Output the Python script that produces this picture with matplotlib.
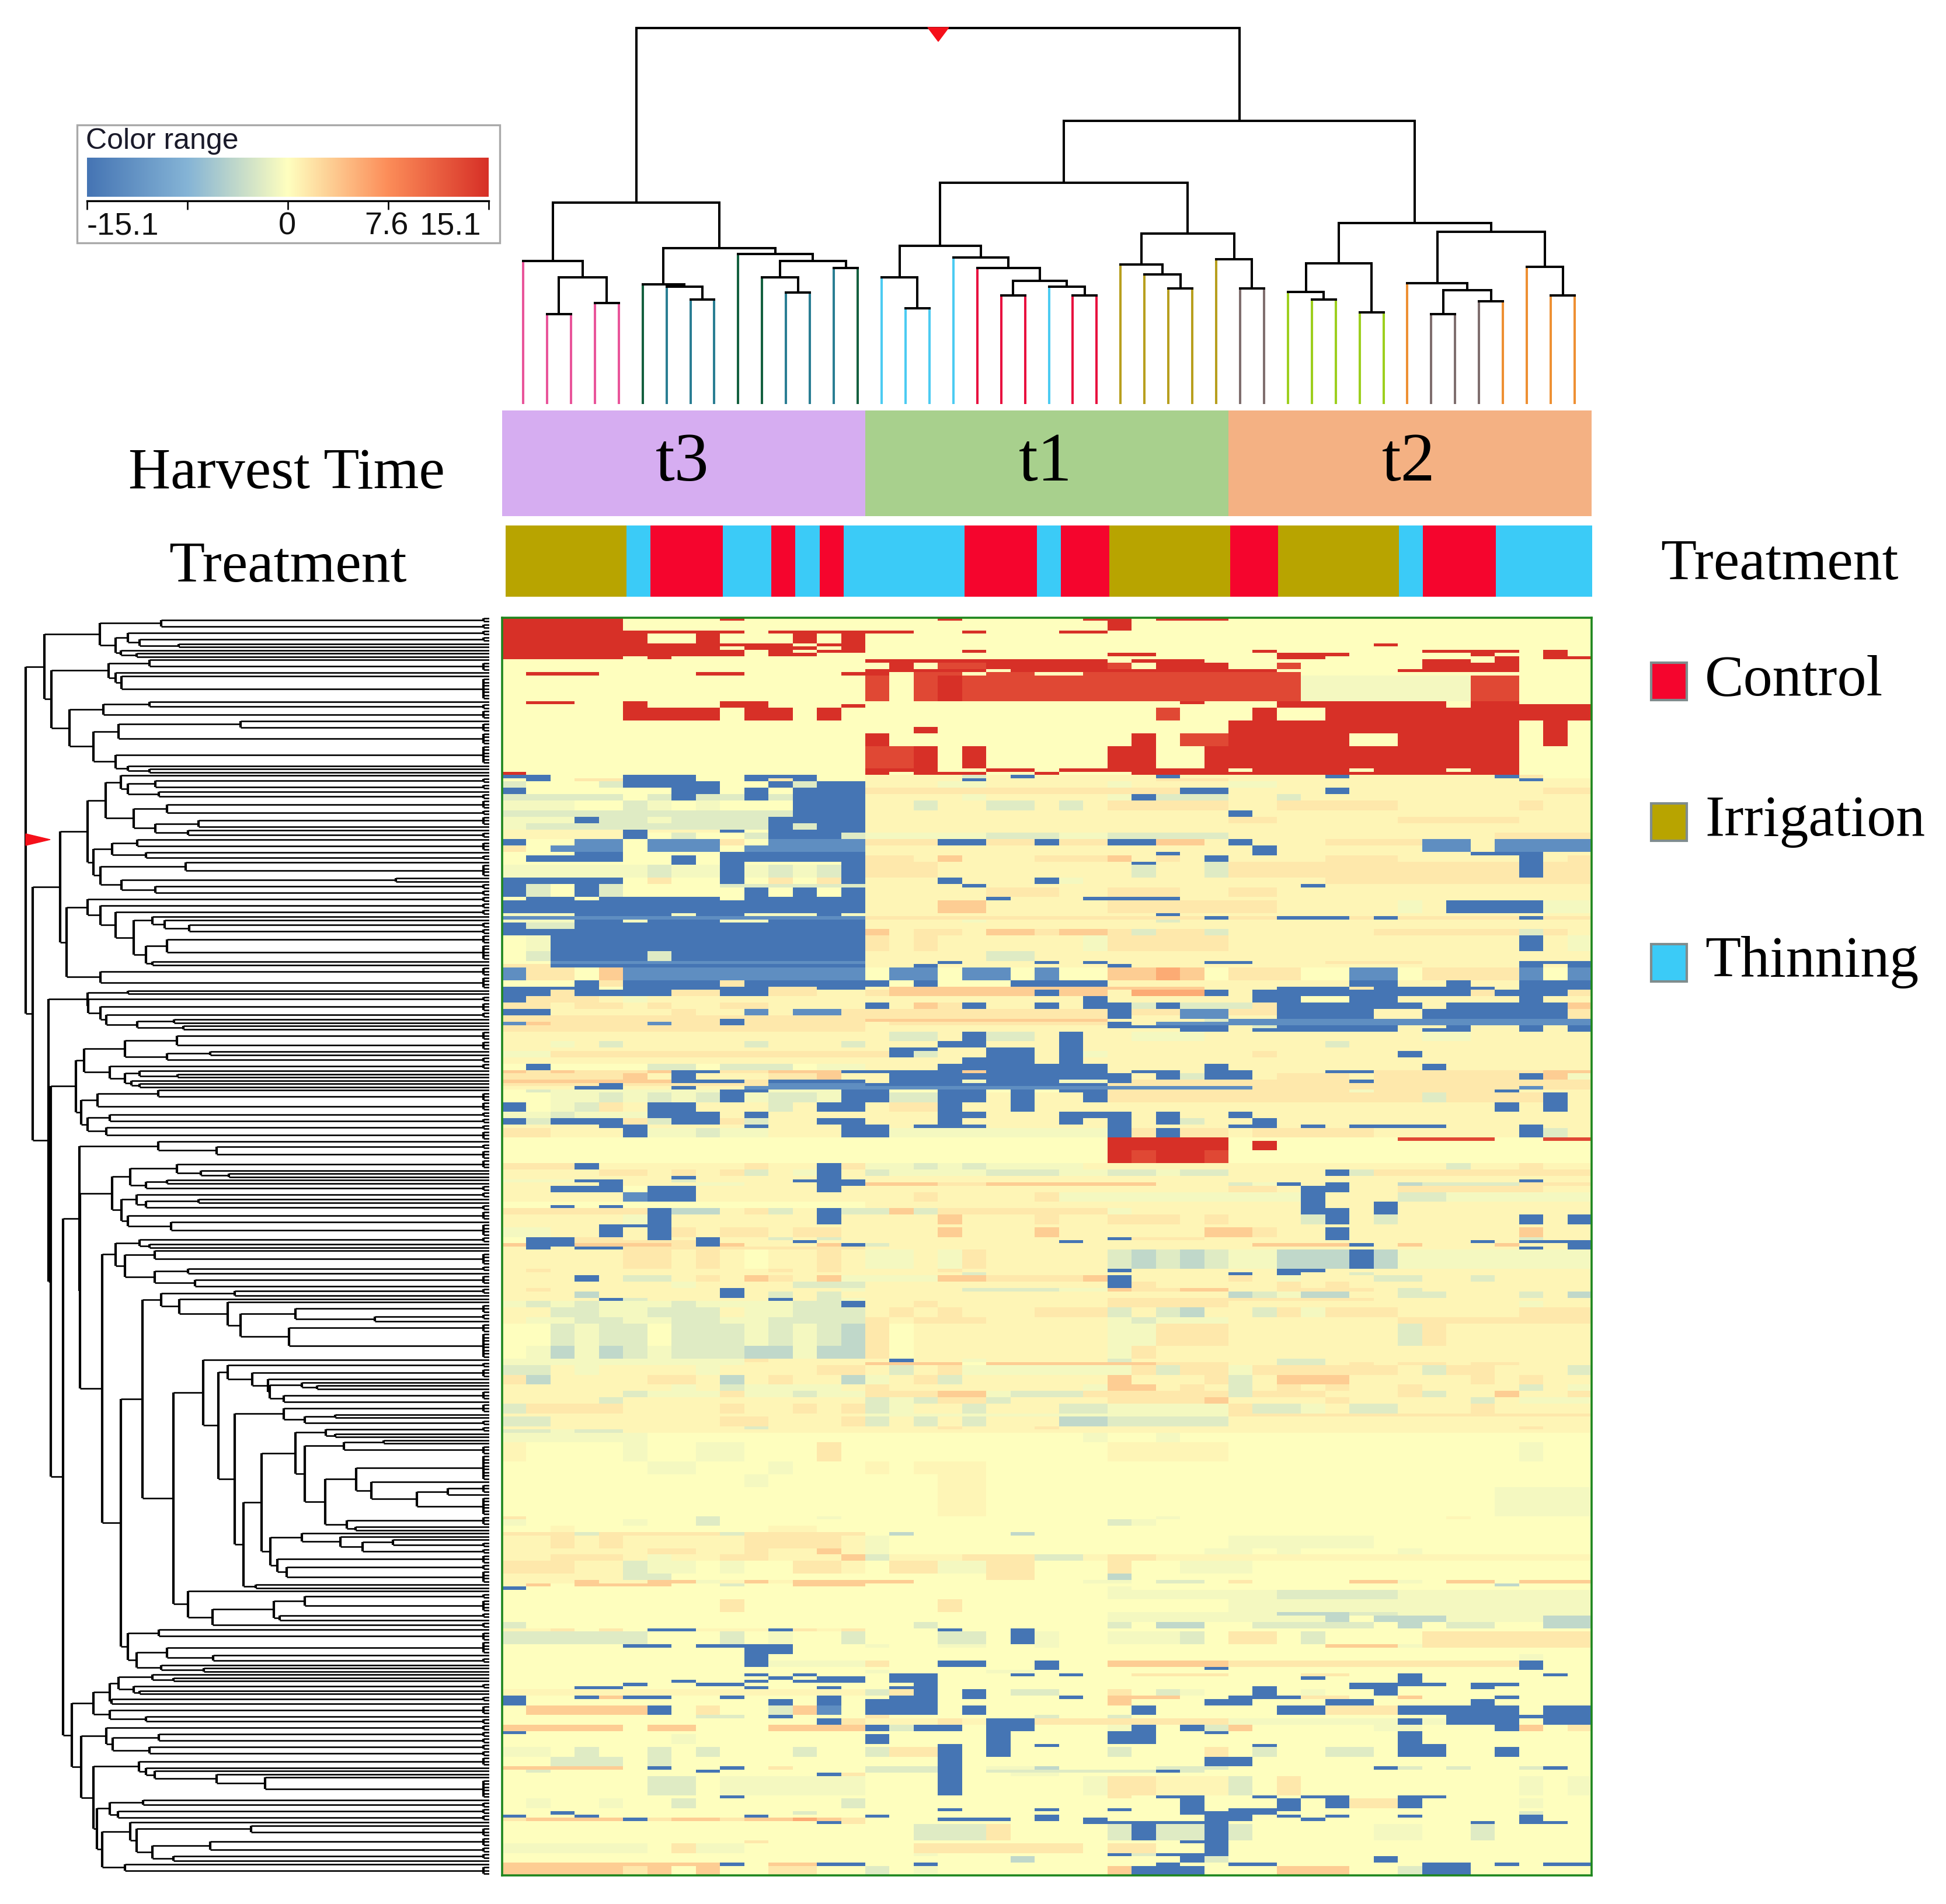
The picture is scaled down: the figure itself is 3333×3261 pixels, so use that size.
import numpy as np
import matplotlib
matplotlib.use('Agg')
from matplotlib import pyplot as plt
from matplotlib.collections import LineCollection
from matplotlib.colors import LinearSegmentedColormap, ListedColormap
from matplotlib.patches import Polygon, Rectangle

W, H = 3333, 3262
plt.rcParams['font.family'] = ['Liberation Serif', 'DejaVu Serif']

# colour range
range_colors = ['#4575B4', '#85B4D6', '#FFFFBF', '#FC8D59', '#D73027']
range_ticks = [-15.1, -7.55, 0, 7.55, 15.1]
range_labels = ['-15.1', '', '0', '7.6', '15.1']

# levels used in the heatmap rows below
level_values = {'.': 0, 'a': 0.6, 'o': 1.5, 'O': 3.2, 'P': 5.5, 'g': -0.7, 'h': -2,
                'i': -3.8, 'b': -12, 'B': -15.1, 'r': 13, 'R': 15.1}

# heatmap : (number of rows, runs of cells), what is missing at the end of a row stays '.'
heat_upper = [
    (1, "R5 .4 R1 .8 R1 .5 R2 .1 R3"), (3, "R5 .20 R1"), (1, "R10 .1 R6 .2 R1 .3 R2"),
    (3, "R6 .2 R1 .3 R1 .1 R1"), (1, "R12 .1 R2 .21 R1"), (1, "R9 .1 R3 .1 R1"),
    (1, "R10 .1 R1 .1 R2 .4 R1 .11 R1 .6 R4 .1 R1"), (1, "R10 .1 R2 .12 R2 .5 R3 .5 R1 .2 R1"),
    (1, "R5 .1 R1 .25 R2 .7 R1 .1 R2"), (1, ".15 R10 .1 R3 .9 R2 .1 R1"),
    (2, ".15 .1 R1 .1 r2 R5 r1 .1 R3 .2 r1 .5 R4"), (1, ".15 R5 .1 R11 .5 R5"),
    (1, ".1 R3 .4 R2 .4 R2 .1 r2 .1 r2 .2 r9"), (8, ".15 r1 .1 r1 R1 r14 g7 r2"),
    (1, ".1 R2 .2 R1 .3 R2 .17 R1 .3 R7 .1 R2"), (1, ".5 R1 .3 R2 .3 R1 .17 R7 .1 R5"),
    (4, ".5 R4 .1 R2 .1 R1 .13 r1 .3 R1 .2 R11"), (2, ".30 R12 .1 R1"), (2, ".17 R1 .12 R12 .1 R1"),
    (4, ".15 R1 .10 R1 .1 r2 R5 .2 R5 .1 R1"), (7, ".15 r2 R1 .1 R1 .5 R2 .2 R13"),
    (1, ".15 R3 .2 R2 .1 R7 .1 R4 .1 R3 .1 R2"), (1, "R1 .14 R1 .1 R3 .2 R1 .3 R16"),
    (1, "B2 .3 B3 .2 B3 .2 a4 h1 a1 B1 a5 B1 a6 B1 a6 B1 o1"),
    (1, ".1 B1 .1 o2 B3 .2 B1 o1 B1 .2 a4 B1 a7 o3 a12 B1 a2"),
    (2, "h1 .3 h1 B4 .2 B1 h1 B2 a3 g2 a5 g1 a4 g2 a13"),
    (2, "B1 .6 B2 .1 B1 .1 B3 o13 B2 a4 B1 a8 o2"),
    (2, "h5 .1 h1 B1 h2 B1 h1 B3 a4 g1 a5 g1 B1 h3 a2 h1 a12"),
    (3, "g3 .2 h1 g1 .1 g1 .3 B3 a2 h1 a2 h2 a1 h1 a1 o5 a2 o5 a5 o1 a2"),
    (2, "h12 B3 a15 B1 a14"), (2, "g3 B1 h2 g1 h4 B4 a15 o2 a5 o5 a3"),
    (2, "g1 h10 B1 h1 B2 a30"), (1, "a5 B1 a3 B1 .1 B4 a30"),
    (2, "a5 B1 .1 h1 .2 h1 B3 h1 g5 h3 g2 h5 a11 o4"),
    (2, "B1 .2 b2 .1 b3 o1 .1 b4 o3 B2 o2 B1 o2 B2 O2 a1 B1 a3 o4 b2 a1 b4"),
    (2, "o1 .1 b3 .1 b3 .1 b5 a16 B1 a6 b2 a1 b4"), (1, ".3 B2 .4 B6 a12 B1 a3 B1 a8 B3 a2"),
    (2, ".1 B4 .2 B1 .1 B6 o2 a1 O1 a3 o3 O1 a1 o1 a1 B1 a4 o3 a5 B1 a1 o1"),
    (1, ".7 B1 .1 B1 .4 B1 o3 a8 B1 a2 h1 o12 B1 o2"),
    (4, "g6 h1 g2 B1 g1 h1 g1 h1 B1 o3 a8 h1 a2 h1 o12 B1 o2"),
    (2, "B5 .1 o1 .2 B1 .1 o1 .1 o1 B1 a3 B1 a3 B1 g1 a10 o11"),
    (1, "B1 h1 .1 B1 h1 .4 h6 a4 B1 a13 B1 a11"),
    (3, "B1 h1 .1 B1 h1 .5 B1 .1 B1 .1 B1 a5 o3 a2 o3 a2 o2 a13"),
    (1, ".1 B2 .1 B5 .1 B5 a5 B1 a3 B4 a17"), (4, "B15 a3 O2 a5 o7 a5 g1 a1 B4 g2"),
    (1, "g3 B4 g1 B2 g3 B1 g1 a12 B1 a17"), (1, "b15 o14 B1 o2 B3 o1 B1 o5 B1 o2"),
    (1, "g3 B2 g1 B3 g2 B4 a4 g1 a7 h1 a17"), (2, "B1 h2 B12 a30"),
]
heat_middle = [
    (2, "B15 O1 a1 o2 a1 O2 o1 O2 o1 h1 o2 h1 a6 o6 h1 o1 a1"),
    (5, ".1 g1 B13 o1 a1 o1 a6 g1 o5 a12 B1 a1 g1"), (3, ".1 h1 B4 h1 B8 a5 h2 a23"),
    (1, ".2 b13 a3 B1 a3 B1 a1 B1 a4 B2 a3 o4 a4 B3"), (1, "o2 B13 a2 B1 a7 B1 a16 B1 a1 B1"),
    (4, "b1 o2 .1 O1 b10 .1 b2 .1 b2 .1 b1 .2 O2 P1 O1 .1 o3 .2 b2 .1 o4 b1 .1 b1"),
    (2, ".3 B1 o1 B4 o1 B6 .1 B1 .3 B4 a10 B2 a2 B1 a2 B3"),
    (1, "B4 .1 B6 o2 B2 a1 O13 a3 B3 o1 B5 a1 B3"),
    (2, "B2 o1 B4 o2 B2 o2 a2 o1 O6 B1 O2 a1 P3 B1 a1 B9 o1 B3 o1"),
    (2, "B1 o3 a1 g1 a9 a9 B1 a6 B2 .2 B2 a5 B1 a2"),
    (2, "o2 a1 o2 a1 o1 a2 o2 a4 B1 a1 O1 o1 B1 a2 B1 a1 B2 h1 B1 h3 o1 B6 a1 B5 O1"),
    (2, "B2 a5 o1 a2 b1 a1 b2 o1 o10 B1 o2 b2 o2 B4 a2 B6 o1"),
    (1, "o15 o10 B1 a2 b2 a2 B4 a2 B6 o1"), (1, "o9 B1 o5 O10 a4 h1 b15"),
    (1, "b1 O1 o4 b1 o2 B1 o5 a1 o9 B1 a1 b18"), (1, "o15 a10 B5 a1 h1 B5 a2 B1 a2 B1 a1 B1"),
    (1, "o15 a13 B2 a1 B6 a1 B2 a2 B1 a1 B1"), (3, "a15 a1 h2 a1 B1 h2 a1 B1 a2 g3 a9 g2 a5"),
    (2, "a2 g1 a1 h1 a5 h1 a3 h1 a3 B2 a3 B1 a10 h1 a10"), (1, "a15 a1 B2 a2 B2 a1 B1 a21"),
    (2, "g2 o13 o1 B1 h1 a2 B2 a1 B1 g1 a6 o1 a5 B1 a7"), (2, "a15 a4 B3 a1 B1 a21"),
    (2, ".1 B1 .4 h2 .1 h3 .1 g2 a3 B7 a4 B1 a8 B1 a6"),
    (1, "O1 o1 O1 o3 O1 B2 o2 O3 B5 O1 B5 a1 B2 a1 B2 a3 B2 o7 O2"),
    (2, "o5 O1 a1 B1 a3 o2 O1 a1 a1 B9 B1 a1 B1 h1 B2 a1 o3 a1 o6 B1 O1 g1"),
    (1, "O7 B3 o1 B4 a1 B3 g1 B3 g2 B1 o9 B1 o9"), (1, "o4 B1 o2 o4 b4 B10 o20"),
    (1, "a3 B2 a2 B1 a2 b5 b10 b6 o11 b1 o2"),
    (1, ".1 h1 g7 B2 g3 B1 B1 .2 B2 .1 B1 .1 B2 o10 g1 o5 B1 a3"),
    (3, ".2 g2 h1 g1 h1 g1 h1 B1 g1 h2 g1 B1 B1 h2 B2 a1 B1 a2 B1 o13 h1 o4 B1 a1"),
    (3, "B1 .1 g1 h1 o1 a1 B2 a3 h1 a1 B2 a1 o2 B1 a2 B1 a19 B1 a1 B1 a1"),
    (2, "g2 h1 g3 B3 a1 B1 a4 a3 B2 a3 B3 a1 B1 a2 B1 a14"),
    (2, "B1 h1 B3 o1 h1 B2 o1 h1 a2 B2 a3 B1 a4 B1 a1 B1 a1 B1 h1 a2 B1 a13"),
    (1, "a4 B2 a4 B1 a3 B2 a1 B3 a5 B1 a4 B2 a1 B1 a1 B4 a3 B1 a2"),
    (3, "o2 a3 B1 g2 h1 g2 a3 B1 B1 g9 B1 o1 B1 o2 a1 o5 a6 B1 h1 a1"),
    (1, ".25 R5 .7 r4 .2 r2"), (3, ".25 R5 .1 R1"), (4, ".25 R1 r1 R2 r1"),
    (2, "o3 B1 a6 o1 a2 B1 o1 g2 h1 g1 h1 g4 a15 h1 a2 o1 a2"),
    (2, "a4 o2 a1 o1 a1 o1 h1 a1 g1 B1 a1 h1 g4 h3 g2 h2 g1 h2 a4 B1 h1 o9"),
    (1, "a7 B1 a5 B1 a1 a30"), (1, "g3 B2 a2 h1 a4 B3 a27 B1 a2"),
    (1, "a4 B1 a3 g2 a3 B2 O3 o2 O7 a3 h1 g1 B1 a1 B1 a2 i1 h4 o3"),
    (2, "a2 B3 .1 B2 a5 B1 a1 a15 o2 a1 B2 a2 o5 o1 a2"),
    (3, "a5 b1 B2 a7 a2 o1 a4 o1 g2 g5 g3 B1 a3 h2 g6"), (1, ".15 a18 B1 a2 B1 a8"),
    (1, ".2 B1 .1 B1 .10 a18 B1 a2 B1 a8"),
    (2, "o5 o1 B1 i2 a1 o1 h1 a1 B1 h1 h1 O1 h1 o7 g1 a7 B2 a1 B1 a8"),
    (3, "a5 g1 B1 a6 B1 a1 a3 O1 a3 o1 a2 o3 a1 o1 a3 h1 B1 a1 h1 a5 B1 a1 B1"),
    (1, "a4 B3 a8 a30"),
    (3, "g2 a2 B1 a1 B1 o1 a1 o2 a1 o2 a1 a3 O1 a3 O1 a6 O2 o1 a2 B1 a7 O1 a2"),
    (1, ".1 B2 o2 a1 B1 a1 B1 a2 h1 a1 h1 a1 a10 B1 o3 a5 B1 a7 h1 a2"),
    (1, ".1 B2 o5 B1 a3 B1 a2 a8 B1 a16 B1 a1 B3"),
    (1, "O1 B2 O4 o1 B1 O1 a3 O1 B1 h1 a15 O4 B1 a1 O1 a3 O1 a2 B1"),
]
heat_lower = [
    (1, "a1 B1 a1 B2 o10 a27 B1 a1 B1"),
    (6, "a5 o2 a1 o1 a1 .1 a2 o1 a1 g2 a1 g1 o1 a5 h1 i1 h1 i1 h1 g2 i3 B1 i1 g8"),
    (1, "a1 o1 a9 o1 a1 o1 a1 a3 o1 a6 B1 a6 B2 a11"),
    (1, "a15 a4 h1 a10 B1 a1 B1 a2 h1 a9"),
    (2, "a3 B1 a1 h2 a1 o1 a1 O1 o1 a1 O1 g1 g3 O2 o4 O1 B1 a4 o1 a1 g1 a3 h2 a2 h1 a4"),
    (2, "a7 g1 a4 h3 a10 B1 o1 a5 o1 a1 o1 a10"),
    (1, "a1 o1 a7 B1 a4 g1 a4 h4 g2 O1 o2 O2 a2 o4 a1 h1 a7"),
    (2, "a3 i1 a5 B1 a1 h1 a1 h1 a1 a15 i1 h1 g1 i2 a2 h2 a3 h1 a1 i1"),
    (1, "a4 B1 h1 a5 B1 a1 h1 g1 a10 o11 a9"),
    (2, "g1 h1 g1 h1 g3 h1 g4 h2 B1 a2 o1 a7 o5 a12 g1 a2"),
    (3, "a2 h2 g2 h3 a1 g2 h3 a1 o1 a1 o1 a3 o3 h1 a1 h1 i1 a2 h1 o1 g1 o3 a5 o3"),
    (2, "a1 g2 h2 g2 h2 g2 h4 o1 a1 o3 a5 g1 h1 g3 a7 o8"),
    (7, ".2 h1 g1 h2 .1 h3 g1 h1 g1 h1 i1 o1 .1 a8 g2 o3 a7 h1 o1 a6"),
    (4, ".1 g1 i1 g1 i1 h1 g1 h3 i2 g1 i2 o1 .1 a8 g1 o1 a18"),
    (1, "g10 o1 a4 a1 B1 a2 g1 a5 h1 a6 h2 a11"),
    (1, "g10 a5 O4 .1 O7 o3 a2 h2 a1 o1 a1 o2 a1 o2 a3"),
    (3, "h2 a1 g1 a4 g1 a4 o2 a1 h1 a1 o1 g7 o1 h1 o2 g1 o1 o5 a1 h1 o2 a3 h1"),
    (3, "o1 i1 a4 o2 a1 i1 a1 o1 a2 i1 g1 a1 o1 h1 a6 O1 a3 o1 h1 a1 O3 a5 o1 a1 o1 a2"),
    (2, "a7 g1 a1 h1 g4 a1 o1 a8 g1 O2 a1 o1 a1 h1 a1 o1 a1 o1 a2 o1 a4 h1 a1 g1"),
    (2, "a5 h1 g3 o1 g2 h1 g2 o3 O2 g1 h3 o1 o5 h1 o3 a3 o1 h1 a2 O1 a2 o1"),
    (2, "a4 h1 a10 h1 g1 h1 o2 h1 a4 o4 O1 a4 o1 a5 h1 a1 g3"),
    (3, "h1 o4 a4 o1 a2 o1 a1 o1 h1 g1 a2 h1 a3 h2 g5 o1 h2 g1 a1 h2 a3 o1 a4"),
    (1, "a15 g15 o15"), (3, "h2 a7 o2 a3 o1 h1 a1 h1 a1 h1 a3 i1 i1 h5 a15"),
    (1, "a7 a1 a2 h1 a4 a3 o1 a3 o1 a19 o1 a2"), (1, "h2 g1 h2 a10 a30"),
    (3, "g6 .9 .9 g1 .2 g1 .17"), (6, "a1 .4 g1 .2 g2 .3 o1 .1 .10 a5 .12 g1 .2"),
    (4, ".6 g2 .3 g1 .3 a1 .1 a3 .25"), (4, ".10 g1 .4 .3 a2 .25"), (9, ".18 a2 .21 g4"),
    (1, "o1 .7 h1 .4 g1 .1 .12 g1 .11 a1 .5"), (2, "g1 .4 g1 .2 h1 .6 .10 h1 g1 .18"),
    (2, ".2 a1 .8 a2 .2"), (1, "o3 h1 o5 h1 o5 .1 i1 .4 i1 .23"),
    (4, "a2 o1 a1 o1 a5 o4 a1 g1 .14 g6 .9"), (2, "a6 o2 a2 o1 a2 O1 a1 g1 .13 g2 .1 g1 .4 g1 .7"),
    (2, "a2 o3 a1 g1 a2 o2 a3 O1 h1 a3 o3 h2 a1 o2 a18"),
]
heat_bottom = [
    (4, "o3 a2 h1 g2 .1 g1 .2 o2 a1 .1 o2 g2 o2 .3 o1 .2 g3 .14"), (2, "a5 h2 .8 .5 o2 .3 i1 .19"),
    (1, "a3 O1 a2 O2 g1 a1 O1 a1 O3 O2 .7 g2 .1 h2 .1 o1 .4 O2 g1 .1 O2 .1 O3"),
    (1, "a1 O1 .1 O4 .2 h1 .2 O3 .26 i1 .3"), (1, "B1 .14 .10 g1 .19"), (3, ".25 g5 g2 h5 g8"),
    (4, ".9 o1 .8 o1 .11 g15"), (1, ".25 g7 i3 h2 g8"), (2, ".25 g9 i1 .1 i3 g4 i2"),
    (2, "h1 .16 h1 .7 h1 .1 i2 .2 h5 .1 i1 .1 h2 .2 i2"),
    (1, "a2 o1 .1 o1 .1 B2 a3 B1 o1 a1 o1 .3 B1 .2 B1 .23"),
    (4, "h6 .3 h1 .1 g1 .2 h1 .3 h2 .1 B1 g1 .2 g3 h1 .1 o2 .1 h1 .4 o7"),
    (1, ".5 B2 .1 B4 .3 g1 .2 g2 .2 g1 .11 O3 g1 o7"), (2, ".10 B2 .3"),
    (2, ".10 B1 .4 .27 g1 .2"), (2, ".10 B1 g4 o1 .2 B2 .2 B1 .2 O5 o12 B1 .2"),
    (1, ".15 .7 B1 .6 B1 .12 B1 .2"), (1, ".15 g1 .4 g2 .23"),
    (1, ".10 B1 .1 B1 .2 .1 B2 .3 B1 .1 B1 .2 o4 .3 o2 .2 B1 .5 B1 .1"),
    (1, ".11 B1 .1 B2 .1 B2 .15 B1 .3 B1 .7"), (1, ".7 B1 .2 B1 .1 B3 .1 B2 .19 B1 .7"),
    (1, ".5 B1 .2 B2 .5 .2 B1 .17 B4 .1 B2 .3"), (1, ".3 B2 .5 B1 .2 B1 .1 .1 B2 .13 B1 .3 B2 .3 B1 .4"),
    (2, "a15 h1 o1 B1 .1 B1 .1 h2 .2 o1 .1 h1 g1 .2 B1 .1 g1 .2 B1 .8"),
    (1, "B1 .2 B1 O1 B2 .2 B1 .3 B1 .1 .1 B2 .1 B1 .3 B1 .1 O3 .2 B3 o2 .2 O1 .3 B1 .3"),
    (2, "B1 .10 B1 .1 B1 .1 B3 .7 O1 .3 B2 .3 B2 .4 B1 .4"),
    (3, ".1 O5 B1 .1 o1 .2 h1 O1 b1 .1 B3 .1 B1 .6 B1 .5 B2 o3 B5 .1 B2"),
    (1, ".8 h2 .1 B1 .3 o1 .6 h1 .2 h1 .13 B6"),
    (2, ".13 B1 o1 a3 o1 a1 B2 o8 g7 B1 g1 B3 .1 B2"),
    (2, "O5 .1 O2 .3 O4 B1 h1 B2 .1 B2 .3 g1 B1 .1 B1 h1 O1 .5 g2 .3 B1 O1 .1 o1"),
    (1, "B1 .14 .5 B1 .4 B2 .2 B1 .7 B1 .7"), (3, ".7 g1 .7 B1 .4 B1 .4 B2 .10 B1 .7"),
    (1, ".18 B1 .1 B1 .1 B1 .8 B1 .5 B2 .6"),
    (3, "g2 .1 h1 .2 h1 .1 h1 .3 h1 .2 h1 o2 B1 .1 B1 .4 h1 .3 o1 .1 h1 .2 h2 .1 B2 .2 B1 .3"),
    (3, ".2 h3 .1 h1 .8 .3 B1 .10 B2 .14"),
    (1, "O5 .1 B1 .2 B1 .1 o1 .3 h3 B1 .1 g2 i1 .4 h3 .6 B1 h1 .1 h1 .2 h1 B1 .1"),
    (1, ".1 h1 .6 B1 .6 h3 B1 .1 h7 B1 h1 .16"), (1, ".13 B1 o1 .3 B1 .2 g2 .22"),
    (6, ".6 h2 .1 g6 .3 B1 .5 g1 o2 a3 h1 .1 o1 .9 g1 .1 g1"),
    (1, ".9 B1 .5 .10 o1 .1 B2 .2 B1 .1 B2 .2 B2 .6"),
    (3, ".1 g1 .2 g1 .2 h1 .6 h1 .13 B1 .3 B1 .1 B1 o2 B1 .4 g1 .2"),
    (1, ".15 .3 B1 .3 B1 .2 B1 .2 B1 .1 B3 .12"), (1, ".2 B1 .9 h1 .2 .13 B4 .10 h1 .2"),
    (1, "B1 .2 B1 .6 B1 .4 B1 .6 B1 .6 B2 .1 B1 .1 B1 .2 B1 .4 B1 .2"),
    (1, "o1 O4 B1 o1 O2 o1 O2 P1 O1 o1 .3 B3 .1 B1 .1 B1 .4 B2 .2 B1 .8 B1 .2"),
    (1, ".13 B1 o1 .9 B6 .10 B1 .1 B2 .1"),
    (5, ".15 .2 h1 h2 o1 .4 h1 B1 h2 B1 h1 .5 g2 .2 h1 .4"), (1, ".10 o1 .4 .13 B2 .15"),
    (3, "g6 .1 o1 g2 .5 .2 o7 .1 o2 .2 B1 .15"), (1, ".15 .2 g1 .7 B1 h1 B3 .15"),
    (2, ".15 .6 i1 .6 B1 h1 .6 B1 .8"),
    (1, "O9 B1 .1 O2 B2 .2 B1 .9 B1 .2 B2 .6 B2 .1 B1 .1 B2"),
    (3, "O5 o1 O1 .1 O1 .2 o2 .2 h1 .1 g1 .7 O1 B3 .3 O3 .2 h1 B2 .5"),
]

# treatment of each column and harvest groups
treatment_names = ['Control', 'Irrigation', 'Thinning']
treatment_colors = ['#F5052D', '#B8A400', '#3BCBF7']
treatment_runs = [(1, 5), (2, 1), (0, 3), (2, 2), (0, 1), (2, 1), (0, 1), (2, 5), (0, 3), (2, 1),
                  (0, 2), (1, 5), (0, 2), (1, 5), (2, 1), (0, 3), (2, 4)]
harvest_labels = ['t3', 't1', 't2']
harvest_sizes = [15, 15, 15]
harvest_colors = ['#D6ADF1', '#A8D08D', '#F4B183']

# column tree : (merge level, first, second), ints are leaves
col_t3 = (495, (645, 0, (688, (782, 1, 2), (754, 3, 4))),
          (612, (706, 5, (712, 6, (745, 7, 8))),
           (627, 9, (645, (688, 10, (727, 11, 12)), (664, 13, 14)))))
col_t1 = (443, (607, (688, 15, (768, 16, 17)),
                (636, 18, (664, 19, (697, (735, 20, 21), (712, 22, (735, 23, 24)))))),
          (575, (655, 25, (680, 26, (717, 27, 28))), (641, 29, (717, 30, 31))))
col_t2 = (547, (651, (726, 32, (745, 33, 34)), (778, 35, 36)),
          (570, (703, 37, (721, (782, 38, 39), (750, 40, 41))), (660, 42, (735, 43, 44))))
col_tree = (43, col_t3, (283, col_t1, col_t2))
pink, green, teal, sky, red, olive, taupe, lime, orange = ('#E9559A', '#14603F', '#2A7E93', '#4CCBF2',
                                                           '#E8103F', '#B89F1E', '#7F6E6E', '#9DCF1E', '#EE9033')
col_leaf_colors = [pink] * 5 + [green, teal, teal, teal, green, green, teal, teal, teal, green] \
    + [sky] * 4 + [red] * 3 + [sky, red, red] + [olive] * 5 + [taupe] * 2 + [lime] * 5 \
    + [orange] + [taupe] * 3 + [orange] * 4

# row tree : (merge level, top, bottom), ints are clusters of that many rows
row_red = (105,
           (282, (478, 2, 2),
            (332, (372, 2, (410, 2, (535, 1, 1))), (350, 1, (400, 1, 1)))),
           (127,
            (310, (440, 1, 3), (332, 1, (352, 1, 7))),
            (185, (293, (440, 1, 2), 3),
             (262, (342, (733, 1, 3), 4), (332, 6, (372, 1, (440, 1, 1)))))))
row_blue = (155,
            (243,
             (300, (350, 1, (372, (460, 2, 2), (470, 1, 2))),
              (390, (497, 3, 2), (460, (597, 3, 1), (565, 1, 2)))),
             (262, (322, (402, 1, 3), (430, 1, 2)),
              (283, (557, 1, 4), (352, (1230, 1, 1), (460, 2, 2))))),
            (175,
             (243, 2, (283, 2, (332, 2, (390, (450, 1, (490, 1, (568, 2, 2))),
                                         (430, (497, 3, 5), (450, 1, 1)))))),
             (283, 3, 4)))
row_a = (243, (372, 1, 1), (245, 2, (283, 3, (303, 2, (402, (520, 1, 1), (550, 1, 1))))))
row_b = (205,
         (232, (362, (528, 3, 3), (497, (635, 1, 1), 2)),
          (313, 2, (362, (410, 1, (530, 1, 1)), (382, 1, (410, 1, 1))))),
         (222, (275, (468, 1, 3), 3), (243, (313, 2, 2), (303, 2, 3))))
row_c = (613, 1,
         (662, (692, 2, (770, 3, (820, 1, (825, (928, 1, (977, 1, 1)), (870, 3, 1))))),
          (713, (870, 3, (937, (1035, 1, 1), 2)),
           (742,
            (800,
             (908, (1005, 2, (1035, 1, 1)),
              (938, (1063, (1190, 1, 1), 3),
               (1003, (1102, 8, (1150, 1, (1297, (1395, 3, 1), 6))), (1072, 3, (1100, 1, 1))))),
             (828, (928, 1, (1052, 1, (1122, (1220, 1, 2), 2))), (850, 3, (880, 2, 4)))),
            (780, 1, 1)))))
row_d = (290,
         (332, (410, 2, (440, 1, 1)), (362, (458, 1, 4), (458, (565, 2, 1), (587, 3, 1)))),
         (350,
          (418,
           (478, (713, 2, 1), (537, 1, (692, 1, (733, (908, 3, (1162, 2, 1)), (887, 3, 8))))),
           (517, row_c, (565, 1, (643, (838, (937, 2, 4), (858, 2, 1)), 2)))),
          (372, (470, 1, 3), (400, (497, 4, (645, 1, 2)), (478, 1, (615, 1, 1))))))
row_e = (216, (468, 1, (655, 2, 3)),
         (218,
          (322, (380, (528, 3, (605, 1, (695, 1, 1))), (430, (497, 1, 1), 2)),
           (352, (400, 2, (430, (597, 1, 1), 2)), (372, 3, (510, 1, 4)))),
          row_d))
row_f = (193,
         (262,
          (313, (342, (450, 1, (517, 1, 1)), (390, 2, (410, 1, 1))), (320, 2, 1)),
          (313, 3, (430, 1, 2))),
         (222,
          (303, 2, (323, (470, 2, 2), (440, 2, 2))),
          (262,
           (408, 3, (430, 1, (458, 1, (655, 1, (810, 1, 6))))),
           (272, (313, (420, 1, 2), (340, 2, 2)),
            (290, (380, 1, (400, (765, 1, 3), (450, (635, 3, 2), (517, 2, 1)))), (362, 1, 3))))))
row_tree = (45, row_red, (68, row_blue, (118, row_a, (125, row_b, (165, row_e, row_f)))))


def px_axes(x0, y0, x1, y1):
    return fig.add_axes([x0 / W, 1 - y1 / H, (x1 - x0) / W, (y1 - y0) / H])


def parse_band(text):
    cells = []
    for tok in text.split():
        cells += [level_values[tok[0]]] * int(tok[1:])
    cells = cells[:45]
    return cells + [0] * (45 - len(cells))


fig = plt.figure(figsize=(W / 100, H / 100), dpi=100, facecolor='white')

# heatmap
matrix = []
for n, text in heat_upper + heat_middle + heat_lower + heat_bottom:
    matrix += [parse_band(text)] * n
matrix = np.array(matrix)
cmap = LinearSegmentedColormap.from_list('range', range_colors)
ax = px_axes(860, 1059, 2726, 3213)
ax.imshow(matrix, cmap=cmap, vmin=-15.1, vmax=15.1, aspect='auto', interpolation='nearest')
ax.set_xticks([])
ax.set_yticks([])
for s in ax.spines.values():
    s.set_color('#1E861E')
    s.set_linewidth(2.6)

# treatment bar
columns = []
for t, n in treatment_runs:
    columns += [t] * n
ax = px_axes(866, 901, 2727, 1023)
ax.imshow([columns], cmap=ListedColormap(treatment_colors), vmin=0, vmax=2, aspect='auto', interpolation='nearest')
ax.axis('off')

# harvest time bar
ax = px_axes(860, 704, 2726, 885)
left = 0
for lab, size, col in zip(harvest_labels, harvest_sizes, harvest_colors):
    ax.barh(0, size, left=left, height=1, color=col)
    ax.text(left + size / 2 - 0.05, 0, lab, fontsize=85, ha='center', va='center')
    left += size
ax.set_xlim(0, sum(harvest_sizes))
ax.set_ylim(-0.5, 0.5)
ax.axis('off')


# column dendrogram
def draw_col(node):
    if isinstance(node, int):
        return node, 1015
    level, a, b = node
    xa, la = draw_col(a)
    xb, lb = draw_col(b)
    for child, x, l in ((a, xa, la), (b, xb, lb)):
        col = col_leaf_colors[child] if isinstance(child, int) else 'black'
        ax.plot([x, x], [l, level], color=col, lw=2.9, solid_capstyle='butt', clip_on=False)
    ax.plot([xa, xb], [level, level], color='black', lw=2.9, clip_on=False)
    return (xa + xb) / 2, level


ax = px_axes(896, 20, 2697, 693)
draw_col(col_tree)
ax.set_xlim(0, 44)
ax.set_ylim(1015, 0)
ax.axis('off')

# row dendrogram
row_thick = []
row_thin = []
LEAF_END = 1528
BRACKET = 1510


def draw_row(node, start):
    if isinstance(node, int):
        y = start + node / 2
        if node == 1:
            return y, start + 1, LEAF_END
        for i in range(node):
            row_thin.append([(BRACKET, start + i + 0.5), (LEAF_END, start + i + 0.5)])
        row_thick.append([(BRACKET, start + 0.5), (BRACKET, start + node - 0.5)])
        return y, start + node, BRACKET
    level, a, b = node
    ya, nxt, la = draw_row(a, start)
    yb, nxt, lb = draw_row(b, nxt)
    row_thin.append([(level, ya), (la, ya)])
    row_thin.append([(level, yb), (lb, yb)])
    row_thick.append([(level, ya), (level, yb)])
    return (ya + yb) / 2, nxt, level


ax = px_axes(20, 1057, 838, 3213)
_, n_rows, _ = draw_row(row_tree, 0)
ax.add_collection(LineCollection(row_thin, colors='black', linewidths=1.9))
ax.add_collection(LineCollection(row_thick, colors='black', linewidths=3))
ax.set_xlim(0, LEAF_END)
ax.set_ylim(n_rows, 0)
ax.axis('off')

# colour range box
page = fig.add_axes([0, 0, 1, 1], zorder=5)
page.set_xlim(0, W)
page.set_ylim(H, 0)
page.axis('off')
page.patch.set_alpha(0)
page.add_patch(Rectangle((132, 215), 724, 202, fc='white', ec='#A9A9A9', lw=2.4, zorder=1))
page.text(147, 242, 'Color range', fontsize=36, family=['Liberation Sans'], va='center', color='#1A1A2A')

ax = px_axes(149, 271, 837, 338)
ax.set_zorder(6)
ax.imshow(np.linspace(-15.1, 15.1, 512)[None, :], cmap=cmap, vmin=-15.1, vmax=15.1, aspect='auto',
          extent=(-15.1, 15.1, 0, 1))
ax.set_yticks([])
ax.set_xticks(range_ticks, [''] * len(range_ticks))
ax.tick_params(axis='x', length=11, width=1.9, color='black', direction='out')
for name in ('top', 'left', 'right'):
    ax.spines[name].set_visible(False)
ax.spines['bottom'].set_position(('outward', 5))
ax.spines['bottom'].set_linewidth(2.4)

label_pos = [(149, 'left'), (0, 'left'), (492, 'center'), (662, 'center'), (824, 'right')]
for lab, (x, ha) in zip(range_labels, label_pos):
    page.text(x, 387, lab, fontsize=39, family=['Liberation Sans'], ha=ha, va='center', color='#111111')

# red markers on both trees
page.add_patch(Polygon([(1589, 48), (1625, 48), (1607, 72)], color='#F5101A'))
page.add_patch(Polygon([(44, 1429), (44, 1449), (86, 1439)], color='#F5101A'))

# side labels
page.text(491, 812, 'Harvest Time', fontsize=72, ha='center', va='center')
page.text(493, 972, 'Treatment', fontsize=72, ha='center', va='center')
page.text(3048, 968, 'Treatment', fontsize=72, ha='center', va='center')
for name, col, y in zip(treatment_names, treatment_colors, (1168, 1409, 1650)):
    page.add_patch(Rectangle((2828, y - 32), 61, 64, fc=col, ec='#7F8C8D', lw=3))
    page.text(2920, y - 2, name, fontsize=72, va='center')

fig.savefig('out.png', dpi=100)
